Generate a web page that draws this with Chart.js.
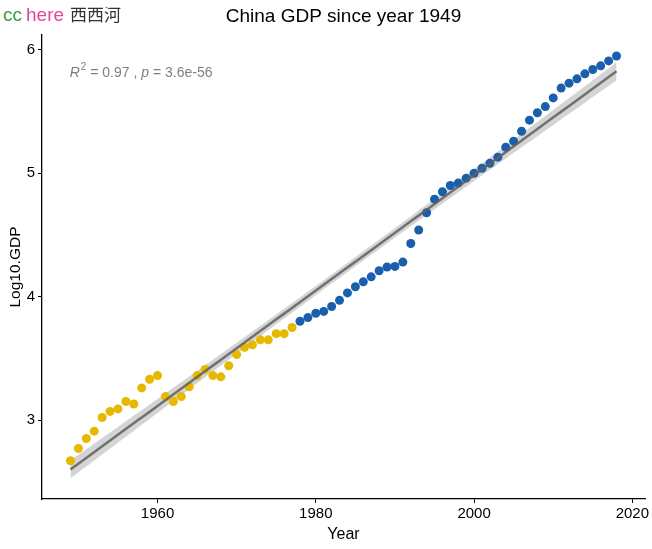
<!DOCTYPE html>
<html>
<head>
<meta charset="utf-8">
<script src="https://cdn.jsdelivr.net/npm/chart.js@4.4.1/dist/chart.umd.min.js"></script>
<style>
  body { margin: 0; background: #fff; }
  #wrap { width: 652px; height: 549px; }
</style>
</head>
<body>
<div id="wrap"><canvas id="gdpChart" width="652" height="549"></canvas></div>
<script>
// Pre-reform (1949-1977) and reform era (1978-2018), log10 of GDP
const earlyYears = [1949, 1950, 1951, 1952, 1953, 1954, 1955, 1956, 1957, 1958,
  1959, 1960, 1961, 1962, 1963, 1964, 1965, 1966, 1967, 1968, 1969, 1970, 1971,
  1972, 1973, 1974, 1975, 1976, 1977];
const earlyGdp = [2.67, 2.77, 2.85, 2.91, 3.02, 3.07, 3.09, 3.15, 3.13, 3.26,
  3.33, 3.36, 3.19, 3.15, 3.19, 3.27, 3.36, 3.41, 3.36, 3.35, 3.44, 3.53, 3.59,
  3.61, 3.65, 3.65, 3.70, 3.70, 3.75];
const lateYears = [1978, 1979, 1980, 1981, 1982, 1983, 1984, 1985, 1986, 1987,
  1988, 1989, 1990, 1991, 1992, 1993, 1994, 1995, 1996, 1997, 1998, 1999, 2000,
  2001, 2002, 2003, 2004, 2005, 2006, 2007, 2008, 2009, 2010, 2011, 2012, 2013,
  2014, 2015, 2016, 2017, 2018];
const lateGdp = [3.80, 3.83, 3.865, 3.88, 3.92, 3.97, 4.03, 4.08, 4.12, 4.16,
  4.21, 4.24, 4.245, 4.28, 4.43, 4.54, 4.68, 4.79, 4.85, 4.90, 4.92, 4.96, 5.00,
  5.04, 5.08, 5.13, 5.21, 5.26, 5.34, 5.43, 5.49, 5.54, 5.61, 5.69, 5.73, 5.765,
  5.805, 5.84, 5.87, 5.91, 5.95];
const xTicks = [1960, 1980, 2000, 2020];
const yTicks = [3, 4, 5, 6];

const yellow = "#E7B800";
const blue = "#1a5fad";

// linear fit + 95% confidence band (like geom_smooth(method = "lm"))
const allX = earlyYears.concat(lateYears);
const allY = earlyGdp.concat(lateGdp);
const n = allX.length;
const mx = allX.reduce((a, b) => a + b, 0) / n;
const my = allY.reduce((a, b) => a + b, 0) / n;
let sxx = 0, sxy = 0;
for (let i = 0; i < n; i++) {
  sxx += (allX[i] - mx) ** 2;
  sxy += (allX[i] - mx) * (allY[i] - my);
}
const slope = sxy / sxx;
const icept = my - slope * mx;
let sse = 0;
for (let i = 0; i < n; i++) sse += (allY[i] - (icept + slope * allX[i])) ** 2;
const s = Math.sqrt(sse / (n - 2));
const tval = 1.995;

let fitLine = [], upper = [], lower = [];
for (let i = 0; i <= 80; i++) {
  const x = allX[0] + (allX[n - 1] - allX[0]) * i / 80;
  const yh = icept + slope * x;
  const se = s * Math.sqrt(1 / n + (x - mx) ** 2 / sxx);
  fitLine.push({ x: x, y: yh });
  upper.push({ x: x, y: yh + tval * se });
  lower.push({ x: x, y: yh - tval * se });
}

const toPts = (xs, ys) => xs.map((x, i) => ({ x: x, y: ys[i] }));
const sans = '"Liberation Sans", Arial, sans-serif';

const textBits = {
  id: "textBits",
  afterDraw(chart) {
    const c = chart.ctx;
    const sx = chart.scales.x, sy = chart.scales.y;
    const area = chart.chartArea;
    c.save();
    // title, centred over the panel
    c.textAlign = "center";
    c.textBaseline = "middle";
    c.fillStyle = "#000";
    c.font = "19px " + sans;
    c.fillText("China GDP since year 1949", (area.left + area.right) / 2, 17);

    // watermark
    c.textBaseline = "alphabetic";
    c.textAlign = "left";
    c.font = "19px " + sans;
    c.fillStyle = "#3c9a3c";
    c.fillText("cc", 3, 21);
    let w = c.measureText("cc").width + 4;
    c.fillStyle = "#e0489a";
    c.fillText("here", 3 + w, 21);
    w += c.measureText("here").width + 6;
    c.font = '17px "Noto Sans CJK SC", sans-serif';
    c.fillStyle = "#333";
    c.fillText("西西河", 3 + w, 21);

    // R2 / p annotation
    let px = sx.getPixelForValue(1948.9);
    const py = sy.getPixelForValue(5.78);
    c.fillStyle = "#7f7f7f";
    const parts = [
      ["italic", "R"], ["sup", "2"], ["", " = 0.97 , "], ["italic", "p"], ["", " = 3.6e-56"]
    ];
    for (const [st, t] of parts) {
      if (st === "sup") {
        c.font = "10px " + sans;
        c.fillText(t, px + 1, py - 7);
        px += c.measureText(t).width + 1;
      } else {
        c.font = (st === "italic" ? "italic " : "") + "14px " + sans;
        c.fillText(t, px, py);
        px += c.measureText(t).width;
      }
    }
    c.restore();
  }
};

const ctx = document.getElementById("gdpChart");
const font = { family: sans };

const myChart = new Chart(ctx, {
  type: "scatter",
  data: {
    datasets: [
      {
        type: "line", data: upper, borderWidth: 0, pointRadius: 0,
        backgroundColor: "rgba(160,160,160,0.45)", fill: false, order: 5
      },
      {
        type: "line", data: lower, borderWidth: 0, pointRadius: 0,
        backgroundColor: "rgba(160,160,160,0.45)", fill: "-1", order: 4
      },
      {
        label: "1949-1977", data: toPts(earlyYears, earlyGdp),
        backgroundColor: yellow, borderColor: yellow, pointRadius: 4.5,
        borderWidth: 0, order: 3
      },
      {
        label: "1978-2018", data: toPts(lateYears, lateGdp),
        backgroundColor: blue, borderColor: blue, pointRadius: 4.5,
        borderWidth: 0, order: 2
      },
      {
        type: "line", data: fitLine, borderColor: "rgba(95,95,95,0.85)",
        borderWidth: 2.5, pointRadius: 0, fill: false, order: 1
      }
    ]
  },
  options: {
    responsive: false,
    animation: false,
    layout: { padding: { top: 35, right: 7, left: 0, bottom: 0 } },
    plugins: {
      legend: { display: false },
      tooltip: { enabled: false },
      title: { display: false }
    },
    scales: {
      x: {
        type: "linear", min: 1945.4, max: 2021.6,
        afterBuildTicks: (sc) => { sc.ticks = xTicks.map(v => ({ value: v })); },
        afterFit: (sc) => { sc.height = 50; },
        grid: { display: true, drawOnChartArea: false, drawTicks: true, tickLength: 4, color: "#000" },
        border: { display: true, color: "#000", width: 1.3 },
        ticks: { color: "#000", font: { ...font, size: 15 }, padding: 2, maxRotation: 0, callback: (v) => String(v) },
        title: { display: true, text: "Year", color: "#000", font: { ...font, size: 16 }, padding: { top: 0, bottom: 5 } }
      },
      y: {
        type: "linear", min: 2.36, max: 6.12,
        afterBuildTicks: (sc) => { sc.ticks = yTicks.map(v => ({ value: v })); },
        afterFit: (sc) => { sc.width = 42; },
        grid: { display: true, drawOnChartArea: false, drawTicks: true, tickLength: 4, color: "#000" },
        border: { display: true, color: "#000", width: 1.3 },
        ticks: { color: "#000", font: { ...font, size: 15 }, padding: 3, callback: (v) => String(v) },
        title: { display: true, text: "Log10.GDP", color: "#000", font: { ...font, size: 15.5 }, padding: { top: 6, bottom: 0 } }
      }
    }
  },
  plugins: [textBits]
});
</script>
</body>
</html>
